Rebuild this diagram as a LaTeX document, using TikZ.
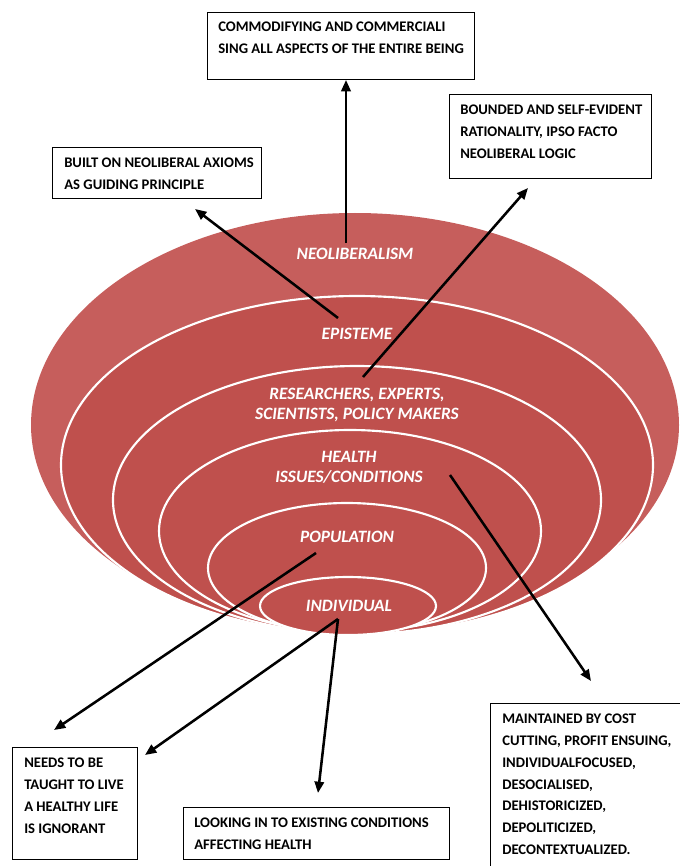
\documentclass[tikz,border=0pt]{standalone}
\usepackage{fontspec}
\setmainfont{Carlito}
\usetikzlibrary{arrows.meta}
\definecolor{outerred}{RGB}{198,94,92}
\definecolor{innerred}{RGB}{191,80,77}
\begin{document}
\begin{tikzpicture}[x=0.75pt,y=-0.75pt,
  infobox/.style={draw=black, line width=0.7pt, fill=white, inner sep=0pt, anchor=north west},
  boxtext/.style={font=\bfseries\fontsize{11}{16.3}\selectfont, align=left, anchor=north west, inner sep=0pt},
  ring/.style={fill=innerred, draw=white, line width=1.6pt},
  lbl/.style={font=\bfseries\itshape\fontsize{13}{15}\selectfont, text=white, align=center, inner sep=0pt},
  arr/.style={-{Triangle[length=8.5pt,width=7pt]}, line width=1.9pt, black}
]
\useasboundingbox (0,0) rectangle (680,866);
% outer shape: elliptical top, slightly slimmer bottom
\fill[outerred] (31,425) arc[start angle=180, end angle=360, x radius=324, y radius=212]
  arc[start angle=0, end angle=180, x radius=324, y radius=207] -- cycle;
% nested ellipses
\draw[ring] (357,465) ellipse [x radius=296, y radius=169];
\draw[ring] (357,500) ellipse [x radius=244, y radius=134];
\draw[ring] (350,531) ellipse [x radius=191, y radius=101];
\draw[ring] (347,568) ellipse [x radius=139, y radius=65];
\draw[ring] (348,606) ellipse [x radius=88, y radius=29];
% labels
\node[lbl] (neo) at (355,254) {NEOLIBERALISM};
\node[lbl] (epi) at (357,334) {EPISTEME};
\node[lbl] (res) at (357,405) {RESEARCHERS, EXPERTS,\\SCIENTISTS, POLICY MAKERS};
\node[lbl] (hea) at (349,467) {HEALTH\\ISSUES/CONDITIONS};
\node[lbl] (pop) at (347,537) {POPULATION};
\node[lbl] (ind) at (349,606) {INDIVIDUAL};
% boxes
\node[infobox, minimum width=267*0.75pt, minimum height=67*0.75pt] (topbox) at (207,12) {};
\node[boxtext] (toptext) at (218,22) {COMMODIFYING AND COMMERCIALI\\SING ALL ASPECTS OF THE ENTIRE BEING};
\node[infobox, minimum width=209*0.75pt, minimum height=51*0.75pt] (builtbox) at (52,147) {};
\node[boxtext] (builttext) at (64,158) {BUILT ON NEOLIBERAL AXIOMS\\AS GUIDING PRINCIPLE};
\node[infobox, minimum width=202*0.75pt, minimum height=84*0.75pt] (boundbox) at (449,94) {};
\node[boxtext] (boundtext) at (460,105) {BOUNDED AND SELF-EVIDENT\\RATIONALITY, IPSO FACTO\\NEOLIBERAL LOGIC};
\node[infobox, minimum width=125*0.75pt, minimum height=112*0.75pt] (needbox) at (12,747) {};
\node[boxtext] (needtext) at (24,758) {NEEDS TO BE\\TAUGHT TO LIVE\\A HEALTHY LIFE\\IS IGNORANT};
\node[infobox, minimum width=266*0.75pt, minimum height=52*0.75pt] (lookbox) at (183,807) {};
\node[boxtext] (looktext) at (194,818) {LOOKING IN TO EXISTING CONDITIONS\\AFFECTING HEALTH};
\node[infobox, minimum width=210*0.75pt, minimum height=180*0.75pt] (maintbox) at (490,703) {};
\node[boxtext] (mainttext) at (502,714) {MAINTAINED BY COST\\CUTTING, PROFIT ENSUING,\\INDIVIDUALFOCUSED,\\DESOCIALISED,\\DEHISTORICIZED,\\DEPOLITICIZED,\\DECONTEXTUALIZED.};
% arrow anchors
\coordinate (s1) at (346,243);
\coordinate (s2) at (338,318);
\coordinate (t2) at (195,209);
\coordinate (s3) at (363,377);
\coordinate (t3) at (528,188);
\coordinate (s4) at (450,475);
\coordinate (t4) at (591,681);
\coordinate (s5) at (316,553);
\coordinate (t5) at (54,730);
\coordinate (s6) at (338,619);
\coordinate (t6) at (145,755);
\coordinate (t7) at (318,793);
\draw[arr] (s1) -- (s1 |- topbox.south);
\draw[arr] (s2) -- (t2);
\draw[arr] (s3) -- (t3);
\draw[arr] (s4) -- (t4);
\draw[arr] (s5) -- (t5);
\draw[arr] (s6) -- (t6);
\draw[arr] (s6) -- (t7);
\end{tikzpicture}
\end{document}
